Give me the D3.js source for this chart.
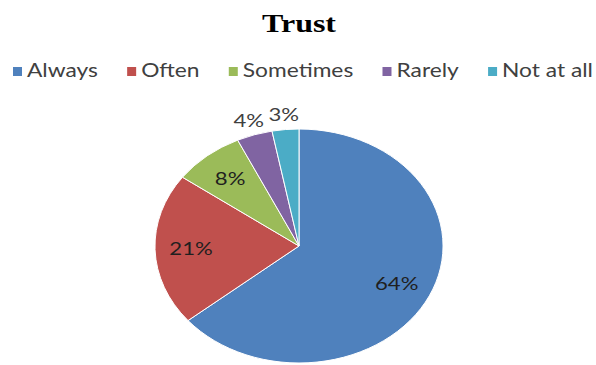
<!DOCTYPE html>
<html>
<head>
<meta charset="utf-8">
<script src="https://cdn.jsdelivr.net/npm/d3@7"></script>
<style>
  html, body { margin: 0; padding: 0; background: #fff; }
  svg { display: block; }
</style>
</head>
<body>
<svg id="chart" width="596" height="365"></svg>
<script>
// Survey answers for "Trust"
const categories = ["Always", "Often", "Sometimes", "Rarely", "Not at all"];
const values = [64, 21, 8, 4, 3];
const labels = ["64%", "21%", "8%", "4%", "3%"];
const colors = ["#4F81BD", "#C0504D", "#9BBB59", "#8064A2", "#4BACC6"];

const W = 596, H = 365;
const sx = 1.231;          // horizontal stretch of the whole figure
const cx = 299, cy = 246;  // pie centre
const R = 117;             // pie radius (vertical)

const svg = d3.select("#chart");
const sans = "Lato, 'Open Sans', sans-serif";

// Title
svg.append("text")
  .attr("transform", `translate(${cx},32) scale(${sx},1)`)
  .attr("text-anchor", "middle")
  .attr("font-family", "'Liberation Serif', 'Times New Roman', serif")
  .attr("font-weight", "bold")
  .attr("font-size", 26)
  .attr("fill", "#000")
  .text("Trust");

// Legend, spread across the row from x0 to x1
const legend = svg.append("g");
const x0 = 13, x1 = 593, sq = 9, pad = 14;
const items = categories.map((c, i) => {
  const item = legend.append("g");
  item.append("rect")
    .attr("y", 67)
    .attr("width", sq).attr("height", sq)
    .attr("fill", colors[i]);
  const t = item.append("text")
    .attr("transform", `translate(${pad},77) scale(${sx},1)`)
    .attr("font-family", sans)
    .attr("font-size", 18.5)
    .attr("fill", "#404040")
    .text(c);
  return { item, w: pad + t.node().getComputedTextLength() * sx };
});
const gap = (x1 - x0 - d3.sum(items, d => d.w)) / (items.length - 1);
let lx = x0;
items.forEach(d => {
  d.item.attr("transform", `translate(${lx},0)`);
  lx += d.w + gap;
});

// Pie
const pie = d3.pie().value(d => d).sort(null);
const arcs = pie(values);
const arc = d3.arc().innerRadius(0).outerRadius(R);

const g = svg.append("g")
  .attr("transform", `translate(${cx},${cy}) scale(${sx},1)`);
g.selectAll("path")
  .data(arcs)
  .enter().append("path")
  .attr("d", arc)
  .attr("fill", (d, i) => colors[i])
  .attr("stroke", "#fff")
  .attr("stroke-width", 1)
  .attr("vector-effect", "non-scaling-stroke");

// Data labels: inside for large slices, outside for small ones
const inner = d3.arc().innerRadius(R * 0.75).outerRadius(R * 0.75);
const outer = d3.arc().innerRadius(R * 1.13).outerRadius(R * 1.13);
arcs.forEach((d, i) => {
  const isOut = values[i] < 5;
  const [px, py] = (isOut ? outer : inner).centroid(d);
  svg.append("text")
    .attr("transform", `translate(${cx + px * sx},${cy + py + 6.5}) scale(${sx},1)`)
    .attr("text-anchor", "middle")
    .attr("font-family", sans)
    .attr("font-size", 18)
    .attr("fill", isOut ? "#404040" : "#1f1f1f")
    .text(labels[i]);
});
</script>
</body>
</html>
